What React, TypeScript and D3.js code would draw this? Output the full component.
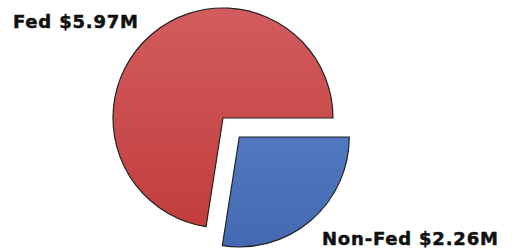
import React from "react";
import * as d3 from "d3";

const categories = ["Non-Fed", "Fed"];
const values = [2.26, 5.97];
const labels = ["Non-Fed $2.26M", "Fed $5.97M"];
const colors = [
  ["#5079bf", "#4469b2"],
  ["#d25c5e", "#c33d3d"],
];

export default function App() {
  const W = 515, H = 251;
  const cx = 223, cy = 118, r = 110;
  const explode = 25;
  const pie = d3.pie<number>().sort(null).startAngle(Math.PI / 2).endAngle(Math.PI / 2 + 2 * Math.PI);
  const arcs = pie(values);
  const arcGen = d3.arc<d3.PieArcDatum<number>>().innerRadius(0).outerRadius(r);
  return (
    <svg width={W} height={H} style={{ position: "absolute", left: 0, top: 0 }}>
      <defs>
        {colors.map((c, i) => (
          <linearGradient key={i} id={`g${i}`} x1="0" y1="0" x2="0" y2="1">
            <stop offset="0" stopColor={c[0]} />
            <stop offset="1" stopColor={c[1]} />
          </linearGradient>
        ))}
      </defs>
      {arcs.map((a, i) => {
        const mid = (a.startAngle + a.endAngle) / 2;
        const off = categories[i] === "Non-Fed" ? explode : 0;
        const dx = Math.sin(mid) * off, dy = -Math.cos(mid) * off;
        return (
          <path
            key={i}
            d={arcGen(a) || ""}
            transform={`translate(${cx + dx},${cy + dy})`}
            fill={`url(#g${i})`}
            stroke="#222"
            strokeWidth={1.2}
          />
        );
      })}
      <text x={13} y={28} fontFamily="DejaVu Sans" fontWeight="bold" fontSize={18} letterSpacing={0.8} fill="#111" stroke="#111" strokeWidth={0.5}>{labels[1]}</text>
      <text x={322} y={245} fontFamily="DejaVu Sans" fontWeight="bold" fontSize={18} letterSpacing={0.8} fill="#111" stroke="#111" strokeWidth={0.5}>{labels[0]}</text>
    </svg>
  );
}
